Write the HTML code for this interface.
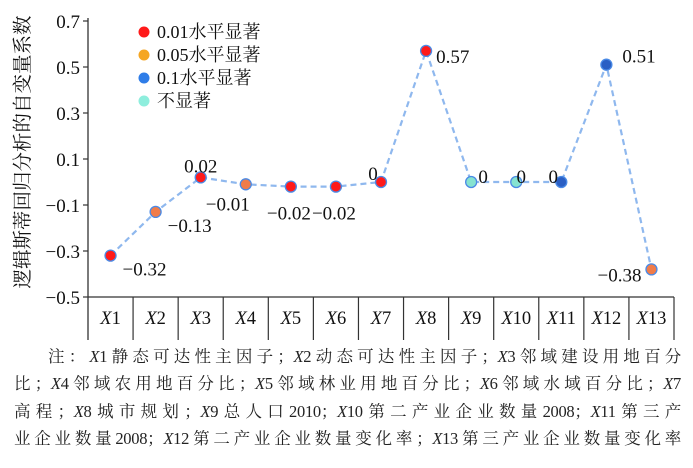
<!DOCTYPE html>
<html><head><meta charset="utf-8"><style>
body{margin:0;background:#fff;width:693px;height:468px;overflow:hidden;font-family:"Liberation Serif","Noto Serif CJK SC",serif;}
.note{position:absolute;left:14px;width:667px;font-size:16.5px;color:#222;text-align:justify;text-align-last:justify;white-space:nowrap;letter-spacing:-0.3px;}
</style></head><body>
<svg width="693" height="350" style="position:absolute;left:0;top:0" font-family="Liberation Serif, Noto Serif CJK SC, serif">
<g id="axes"></g><g id="marks"></g>
</svg>
<div class="note" style="top:343px;padding-left:34px;width:633px">注：<i>X</i>1静态可达性主因子；<i>X</i>2动态可达性主因子；<i>X</i>3邻域建设用地百分</div>
<div class="note" style="top:370px">比；<i>X</i>4邻域农用地百分比；<i>X</i>5邻域林业用地百分比；<i>X</i>6邻域水域百分比；<i>X</i>7</div>
<div class="note" style="top:398px">高程；<i>X</i>8城市规划；<i>X</i>9总人口2010；<i>X</i>10第二产业企业数量2008；<i>X</i>11第三产</div>
<div class="note" style="top:425px">业企业数量2008；<i>X</i>12第二产业企业数量变化率；<i>X</i>13第三产业企业数量变化率</div>
<script>
const categories=["1","2","3","4","5","6","7","8","9","10","11","12","13"];
const values=[-0.32,-0.13,0.02,-0.01,-0.02,-0.02,0,0.57,0,0,0,0.51,-0.38];
const labels=["−0.32","−0.13","0.02","−0.01","−0.02","−0.02","0","0.57","0","0","0","0.51","−0.38"];
const levels=["p01","p05","p01","p05","p01","p01","p01","p01","ns","ns","p1","p1","p05"];
const yTicks=[0.7,0.5,0.3,0.1,-0.1,-0.3,-0.5];
const yTickLabels=["0.7","0.5","0.3","0.1","−0.1","−0.3","−0.5"];
const legendKeys=["p01","p05","p1","ns"];
const legendLabels=["0.01水平显著","0.05水平显著","0.1水平显著","不显著"];
const colors={p01:"#ff1a1a",p05:"#f07c4a",p1:"#2a5fc4",ns:"#86e3d0"};
const legendColors={p01:"#ff1a1a",p05:"#f5a623",p1:"#2f7de8",ns:"#8eeedd"};
const NS="http://www.w3.org/2000/svg";
const X0=88,X1=674,Y0=21,Y1=297,ymin=-0.5,ymax=0.7;
const cw=(X1-X0)/categories.length;
const xs=i=>X0+cw*(i+0.5);
const ys=v=>Y1-(v-ymin)/(ymax-ymin)*(Y1-Y0);
function mk(tag,attrs,parent,text){const e=document.createElementNS(NS,tag);for(const k in attrs)e.setAttribute(k,attrs[k]);if(text!=null)e.textContent=text;parent.appendChild(e);return e;}
const ax=document.getElementById('axes'),mg=document.getElementById('marks');
let e=mk('line',{x1:X0,y1:Y0-3,x2:X0,y2:340,stroke:'#333','stroke-width':1.3},ax);


e=mk('line',{x1:X0,y1:Y1,x2:X1,y2:Y1,stroke:'#333','stroke-width':1.3},ax);


yTicks.forEach((t,i)=>{
 mk('line',{x1:X0-5,y1:ys(t),x2:X0,y2:ys(t),stroke:'#333','stroke-width':1.2},ax);
 e=mk('text',{x:X0-8,y:ys(t)+7,'text-anchor':'end','font-size':19,fill:'#111'},ax,yTickLabels[i]);
 
 
});
categories.forEach((c,i)=>{
 mk('line',{x1:X0+cw*(i+1),y1:Y1,x2:X0+cw*(i+1),y2:340,stroke:'#333','stroke-width':1.2},ax);
 e=mk('text',{x:xs(i),y:324,'text-anchor':'middle','font-size':18.5,fill:'#111'},ax);
 
 
 mk('tspan',{'font-style':'italic'},e,'X');mk('tspan',{},e,c);
});
e=mk('text',{transform:'translate(29,152) rotate(-90)','text-anchor':'middle','font-size':19.5,fill:'#111','font-family':'Noto Serif CJK SC, serif'},ax,'逻辑斯蒂回归分析的自变量系数');


legendKeys.forEach((k,i)=>{
 const y=32+i*23;
 e=mk('circle',{cx:144,cy:y,r:5.5,fill:legendColors[k]},ax);
 
 
 e=mk('text',{x:157,y:y+6,'font-size':18,fill:'#111'},ax,legendLabels[i]);
 
 
});
const pts=values.map((v,i)=>xs(i)+','+ys(v)).join(' ');
e=mk('polyline',{points:pts,fill:'none',stroke:'#8fb8ee','stroke-width':2.2,'stroke-dasharray':'6,4'},mg);


const off=[[12,14,'start'],[12,14,'start'],[0,-11,'middle'],[-18,20,'middle'],[-2,27,'middle'],[-2,27,'middle'],[-8,-8,'middle'],[10,6,'start'],[12,-5,'middle'],[5,-5,'middle'],[-8,-5,'middle'],[16,-8,'start'],[-10,6,'end']];
values.forEach((v,i)=>{
 e=mk('circle',{cx:xs(i),cy:ys(v),r:5.5,fill:colors[levels[i]],stroke:'#4a8ae6','stroke-width':1.3},mg);
 
 
 const o=off[i];
 e=mk('text',{x:xs(i)+o[0],y:ys(v)+o[1]+6,'text-anchor':o[2],'font-size':19,fill:'#111'},mg,labels[i]);
 
 
});
</script>
</body></html>
